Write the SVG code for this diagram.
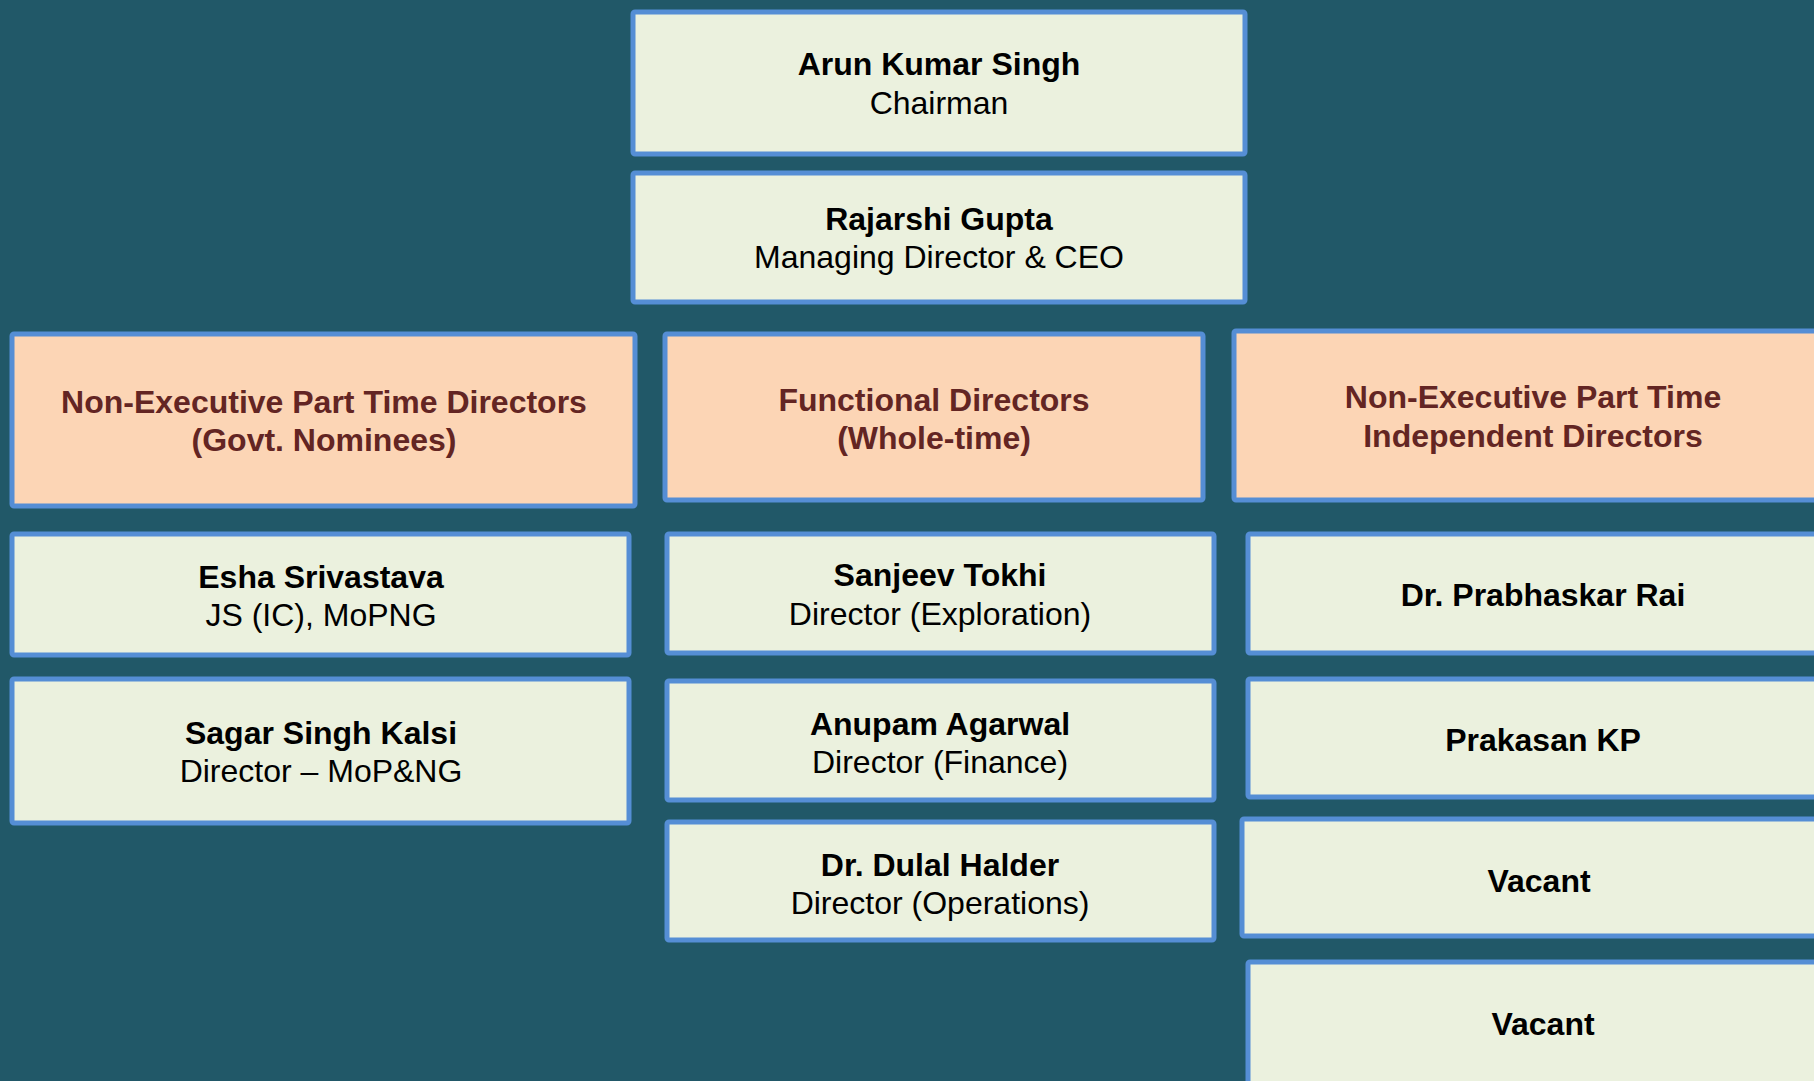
<svg xmlns="http://www.w3.org/2000/svg" width="1814" height="1081" viewBox="0 0 1814 1081">
<style>
.bg{fill:#215868}
.box{fill:#EBF1DE;stroke:#558ED5;stroke-width:5}
.hdr{fill:#FCD5B5;stroke:#558ED5;stroke-width:5}
text{font-family:"Liberation Sans",Arial,sans-serif;font-size:32px;text-anchor:middle}
.nm{font-weight:bold;fill:#000}
.tt{fill:#000}
.ht{font-weight:bold;fill:#632523}
</style>
<rect class="bg" x="0" y="0" width="1814" height="1081"/>
<g id="connectors"/>
<g id="chairman"><rect class="box" x="633" y="12" width="612" height="142" rx="2"/><text class="nm" x="939" y="75">Arun Kumar Singh</text><text class="tt" x="939" y="114">Chairman</text></g>
<g id="md"><rect class="box" x="633" y="173" width="612" height="129" rx="2"/><text class="nm" x="939" y="230">Rajarshi Gupta</text><text class="tt" x="939" y="268">Managing Director &amp; CEO</text></g>
<g id="hdr-govt"><rect class="hdr" x="12" y="334" width="623" height="172" rx="2"/><text class="ht" x="324" y="413">Non-Executive Part Time Directors</text><text class="ht" x="324" y="451">(Govt. Nominees)</text></g>
<g id="hdr-functional"><rect class="hdr" x="665" y="334" width="538" height="166" rx="2"/><text class="ht" x="934" y="411">Functional Directors</text><text class="ht" x="934" y="449">(Whole-time)</text></g>
<g id="hdr-independent"><rect class="hdr" x="1234" y="331" width="600" height="169" rx="2"/><text class="ht" x="1533" y="408">Non-Executive Part Time</text><text class="ht" x="1533" y="447">Independent Directors</text></g>
<g id="esha"><rect class="box" x="12" y="534" width="617" height="121" rx="2"/><text class="nm" x="321" y="588">Esha Srivastava</text><text class="tt" x="321" y="626">JS (IC), MoPNG</text></g>
<g id="sagar"><rect class="box" x="12" y="679" width="617" height="144" rx="2"/><text class="nm" x="321" y="744">Sagar Singh Kalsi</text><text class="tt" x="321" y="782">Director – MoP&amp;NG</text></g>
<g id="sanjeev"><rect class="box" x="667" y="534" width="547" height="119" rx="2"/><text class="nm" x="940" y="586">Sanjeev Tokhi</text><text class="tt" x="940" y="625">Director (Exploration)</text></g>
<g id="anupam"><rect class="box" x="667" y="681" width="547" height="119" rx="2"/><text class="nm" x="940" y="735">Anupam Agarwal</text><text class="tt" x="940" y="773">Director (Finance)</text></g>
<g id="dulal"><rect class="box" x="667" y="822" width="547" height="118" rx="2"/><text class="nm" x="940" y="876">Dr. Dulal Halder</text><text class="tt" x="940" y="914">Director (Operations)</text></g>
<g id="prabhaskar"><rect class="box" x="1248" y="534" width="590" height="119" rx="2"/><text class="nm" x="1543" y="606">Dr. Prabhaskar Rai</text></g>
<g id="prakasan"><rect class="box" x="1248" y="679" width="590" height="118" rx="2"/><text class="nm" x="1543" y="751">Prakasan KP</text></g>
<g id="vacant1"><rect class="box" x="1242" y="819" width="596" height="117" rx="2"/><text class="nm" x="1539" y="892">Vacant</text></g>
<g id="vacant2"><rect class="box" x="1248" y="962" width="590" height="140" rx="2"/><text class="nm" x="1543" y="1035">Vacant</text></g>
</svg>
